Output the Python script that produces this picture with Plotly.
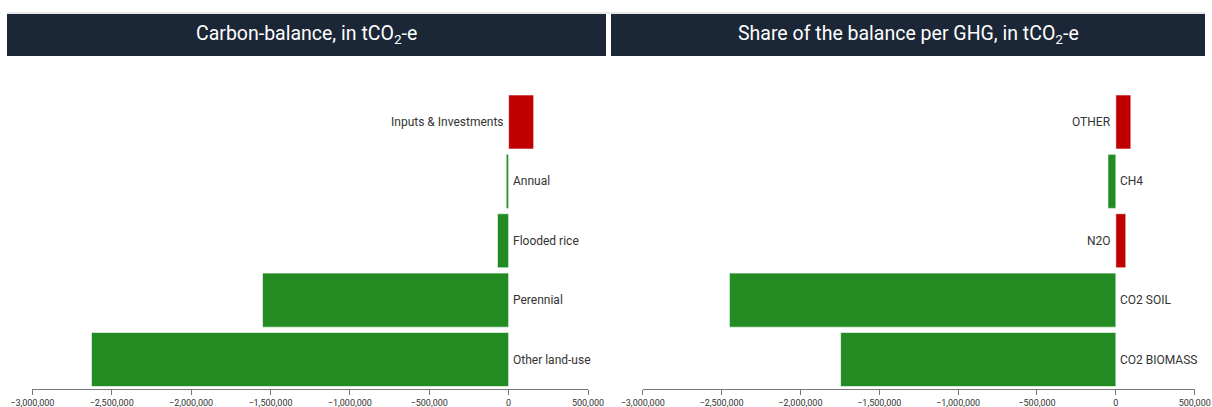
import plotly.graph_objects as go

# Carbon balance by source
balance_labels = ["Inputs & Investments", "Annual", "Flooded rice", "Perennial", "Other land-use"]
balance_values = [158000, -15000, -70000, -1550000, -2627000]

# Share of the balance per greenhouse gas
ghg_labels = ["OTHER", "CH4", "N2O", "CO2 SOIL", "CO2 BIOMASS"]
ghg_values = [95000, -50000, 63000, -2450000, -1745000]

x_ticks = [-3000000, -2500000, -2000000, -1500000, -1000000, -500000, 0, 500000]

GREEN = "#228B22"
RED = "#C00000"
HEADER = "#1B2636"
W, H = 1212, 407


def colors(vals):
    return [RED if v > 0 else GREEN for v in vals]


fig = go.Figure()
fig.add_trace(go.Bar(
    x=balance_values, y=balance_labels, orientation="h",
    marker=dict(color=colors(balance_values), line=dict(color="rgba(255,255,255,0.6)", width=1)),
    xaxis="x", yaxis="y", hoverinfo="x+y",
))
fig.add_trace(go.Bar(
    x=ghg_values, y=ghg_labels, orientation="h",
    marker=dict(color=colors(ghg_values), line=dict(color="rgba(255,255,255,0.6)", width=1)),
    xaxis="x2", yaxis="y2", hoverinfo="x+y",
))

y_dom = [1 - 389.2 / H, 1 - 92.3 / H]
xaxis_common = dict(
    range=[-3000000, 500000], tickvals=x_ticks, tickformat=",",
    showgrid=False, zeroline=False, showline=True, linecolor="#777", linewidth=1,
    ticks="outside", ticklen=5, tickcolor="#777",
    tickfont=dict(family="Roboto", size=9, color="#333"),
    fixedrange=True, automargin=False,
)
yaxis_common = dict(
    type="category", autorange="reversed", showticklabels=False,
    showgrid=False, zeroline=False, showline=False, ticks="", domain=y_dom,
    automargin=False,
)

annotations = []
for vals, labs, xr, yr in [(balance_values, balance_labels, "x", "y"),
                           (ghg_values, ghg_labels, "x2", "y2")]:
    for v, lab in zip(vals, labs):
        annotations.append(dict(
            x=0, y=lab, xref=xr, yref=yr, text=lab, showarrow=False,
            xanchor="right" if v > 0 else "left", xshift=-3 if v > 0 else 2,
            font=dict(family="Roboto", size=12, color="#333"),
        ))

# Panel headers
headers = [("Carbon-balance, in tCO<sub>2</sub>-e", 7, 606),
           ("Share of the balance per GHG, in tCO<sub>2</sub>-e", 611, 1205)]
shapes = []
for text, x0, x1 in headers:
    shapes.append(dict(type="rect", xref="paper", yref="paper",
                       x0=x0 / W, x1=x1 / W, y0=1 - 56 / H, y1=1 - 14 / H,
                       fillcolor=HEADER, line=dict(width=0), layer="below"))
    annotations.append(dict(x=(x0 + x1) / 2 / W, y=1 - 35 / H, xref="paper", yref="paper",
                            text=text, showarrow=False, xanchor="center", yanchor="middle",
                            font=dict(family="Roboto", size=19.5, color="white")))
shapes.append(dict(type="line", xref="paper", yref="paper", x0=7 / W, x1=1205 / W,
                   y0=1 - 13 / H, y1=1 - 13 / H, line=dict(color="#cfcfcf", width=1)))

fig.update_layout(
    width=W, height=H, margin=dict(l=0, r=0, t=0, b=0, autoexpand=False),
    paper_bgcolor="white", plot_bgcolor="white",
    showlegend=False, bargap=0.09,
    xaxis=dict(domain=[32.3 / W, 588 / W], anchor="y", **xaxis_common),
    xaxis2=dict(domain=[642.7 / W, 1194.7 / W], anchor="y2", **xaxis_common),
    yaxis=dict(anchor="x", **yaxis_common),
    yaxis2=dict(anchor="x2", **yaxis_common),
    annotations=annotations, shapes=shapes,
)

fig.write_html("out.html")
